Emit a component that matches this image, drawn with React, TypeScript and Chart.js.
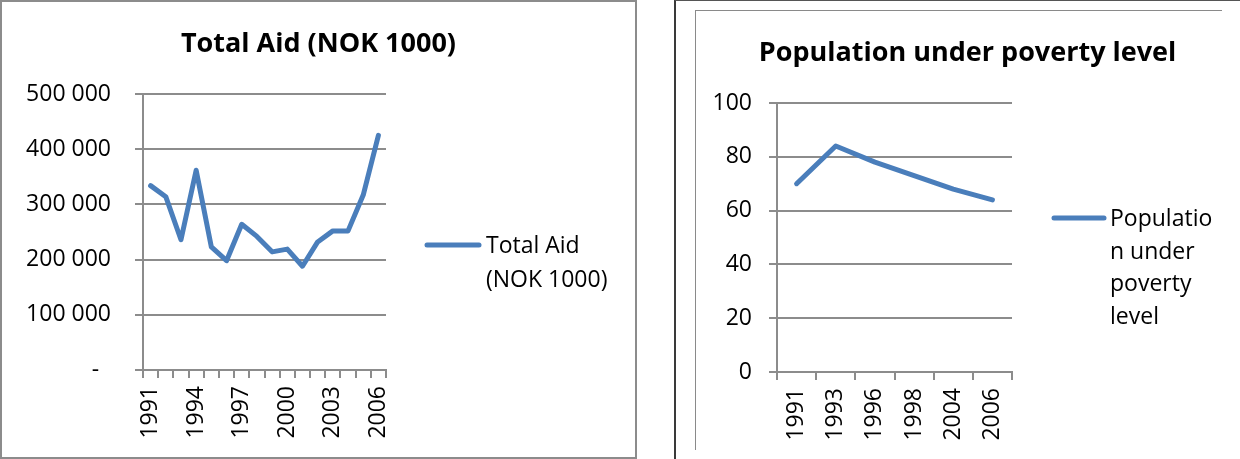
import React, { useEffect, useRef } from 'react';
import { Chart, registerables } from 'chart.js';

Chart.register(...registerables);

// ---- data ----
const aidYears = ['1991', '1992', '1993', '1994', '1995', '1996', '1997', '1998', '1999', '2000', '2001', '2002', '2003', '2004', '2005', '2006'];
const aidValues = [334000, 314000, 236000, 362000, 223000, 198000, 264000, 242000, 214000, 219000, 188000, 232000, 252000, 252000, 317000, 425000];
const aidTitle = 'Total Aid (NOK 1000)';
const aidLegendLines = ['Total Aid', '(NOK 1000)'];

const povertyYears = ['1991', '1993', '1996', '1998', '2004', '2006'];
const povertyValues = [70, 84, 78, 73, 68, 64];
const povertyTitle = 'Population under poverty level';
const povertyLegendLines = ['Populatio', 'n under', 'poverty', 'level'];

// ---- styling ----
const FONT = "'Open Sans', 'DejaVu Sans', sans-serif";
const LINE_BLUE = '#4A7EBB';
const GRID = '#8c8c8c';
const TEXT = '#000000';
const tickFont = { family: FONT, size: 23 };

const spaceThousands = (v: number) =>
  v === 0 ? '-  ' : String(v).replace(/\B(?=(\d{3})+(?!\d))/g, ' ');

// Draws the centred title and the wrapped side legend of a single-series chart.
const chartText = {
  id: 'chartText',
  afterDraw(chart: any, _args: any, opts: any) {
    const ctx = chart.ctx as CanvasRenderingContext2D;
    const ds = chart.data.datasets[0];
    ctx.save();
    // title
    ctx.fillStyle = TEXT;
    ctx.font = `bold ${opts.titleSize}px ${FONT}`;
    ctx.textAlign = 'center';
    ctx.textBaseline = 'alphabetic';
    ctx.fillText(opts.title, chart.width / 2, opts.titleBaseline);
    // legend swatch
    ctx.strokeStyle = ds.borderColor;
    ctx.lineWidth = ds.borderWidth;
    ctx.lineCap = 'round';
    ctx.beginPath();
    ctx.moveTo(opts.swatchX1, opts.swatchY);
    ctx.lineTo(opts.swatchX2, opts.swatchY);
    ctx.stroke();
    // legend text
    ctx.font = `${opts.legendSize}px ${FONT}`;
    ctx.textAlign = 'left';
    const lines: string[] = opts.lines;
    lines.forEach((t, i) => {
      ctx.fillText(t, opts.textX, opts.swatchY + opts.baselineShift + i * opts.lineHeight);
    });
    ctx.restore();
  },
};

function xScale(labelFor: (i: number) => string, height: number) {
  return {
    offset: true,
    grid: {
      offset: true,
      drawOnChartArea: false,
      drawTicks: true,
      tickLength: 8,
      color: GRID,
      lineWidth: 2,
    },
    border: { display: true, color: GRID, width: 2 },
    ticks: {
      autoSkip: false,
      minRotation: 90,
      maxRotation: 90,
      padding: 8,
      font: tickFont,
      color: TEXT,
      callback: (_v: any, i: number) => labelFor(i),
    },
    afterFit: (s: any) => {
      s.height = height;
    },
  };
}

function yScale(max: number, step: number, fmt: (v: number) => string, width: number, padding: number) {
  return {
    min: 0,
    max,
    ticks: {
      stepSize: step,
      padding,
      font: tickFont,
      color: TEXT,
      callback: (v: any) => fmt(Number(v)),
    },
    grid: { color: GRID, lineWidth: 2, tickLength: 8, drawTicks: true },
    border: { display: true, color: GRID, width: 2 },
    afterFit: (s: any) => {
      s.width = width;
    },
  };
}

const aidConfig: any = {
  type: 'line',
  data: {
    labels: aidYears,
    datasets: [
      {
        label: aidTitle,
        data: aidValues,
        borderColor: LINE_BLUE,
        borderWidth: 5,
        pointRadius: 0,
        tension: 0,
        fill: false,
        borderJoinStyle: 'round',
        borderCapStyle: 'round',
      },
    ],
  },
  options: {
    responsive: false,
    animation: false,
    layout: { padding: { left: 0, right: 251, top: 94, bottom: 0 } },
    plugins: {
      legend: { display: false },
      tooltip: { enabled: false },
      title: { display: false },
      chartText: {
        title: aidTitle,
        titleSize: 27,
        titleBaseline: 52,
        lines: aidLegendLines,
        legendSize: 23,
        swatchX1: 427,
        swatchX2: 479,
        swatchY: 245,
        textX: 486,
        baselineShift: 8,
        lineHeight: 34,
      },
    },
    scales: {
      x: xScale((i) => (i % 3 === 0 ? aidYears[i] : ''), 89),
      y: yScale(500000, 100000, spaceThousands, 143, 24),
    },
  },
  plugins: [chartText],
};

const povertyConfig: any = {
  type: 'line',
  data: {
    labels: povertyYears,
    datasets: [
      {
        label: povertyTitle,
        data: povertyValues,
        borderColor: LINE_BLUE,
        borderWidth: 5,
        pointRadius: 0,
        tension: 0,
        fill: false,
        borderJoinStyle: 'round',
        borderCapStyle: 'round',
      },
    ],
  },
  options: {
    responsive: false,
    animation: false,
    layout: { padding: { left: 0, right: 228, top: 92, bottom: 0 } },
    plugins: {
      legend: { display: false },
      tooltip: { enabled: false },
      title: { display: false },
      chartText: {
        title: povertyTitle,
        titleSize: 27,
        titleBaseline: 50,
        lines: povertyLegendLines,
        legendSize: 23,
        swatchX1: 359,
        swatchX2: 409,
        swatchY: 207,
        textX: 415,
        baselineShift: 8,
        lineHeight: 32.5,
      },
    },
    scales: {
      x: xScale((i) => povertyYears[i], 87),
      y: yScale(100, 20, (v) => String(v), 82, 17),
    },
  },
  plugins: [chartText],
};

function ChartCanvas({ config, width, height, left, top }: any) {
  const ref = useRef<HTMLCanvasElement>(null);
  useEffect(() => {
    const chart = new Chart(ref.current as HTMLCanvasElement, config);
    return () => chart.destroy();
  }, [config]);
  return (
    <canvas
      ref={ref}
      width={width}
      height={height}
      style={{ position: 'absolute', left, top, width, height }}
    />
  );
}

export default function App() {
  return (
    <div
      style={{
        position: 'fixed',
        left: 0,
        top: 0,
        width: 1240,
        height: 459,
        background: '#ffffff',
        overflow: 'hidden',
      }}
    >
      {/* left chart frame */}
      <div
        style={{
          position: 'absolute',
          left: 0,
          top: 0,
          width: 637,
          height: 459,
          border: '2px solid #8c8c8c',
          boxSizing: 'border-box',
        }}
      />
      {/* page edge around the right chart */}
      <div
        style={{
          position: 'absolute',
          left: 674,
          top: 0,
          width: 566,
          height: 459,
          borderLeft: '2px solid #3a3a3a',
          borderTop: '1px solid #555555',
          boxSizing: 'border-box',
        }}
      />
      {/* right chart frame */}
      <div
        style={{
          position: 'absolute',
          left: 695,
          top: 10,
          width: 527,
          height: 440,
          borderLeft: '1px solid #8a8a8a',
          borderTop: '1px solid #8a8a8a',
          boxSizing: 'border-box',
        }}
      />
      <ChartCanvas config={aidConfig} width={637} height={459} left={0} top={0} />
      <ChartCanvas config={povertyConfig} width={545} height={448} left={695} top={11} />
    </div>
  );
}
